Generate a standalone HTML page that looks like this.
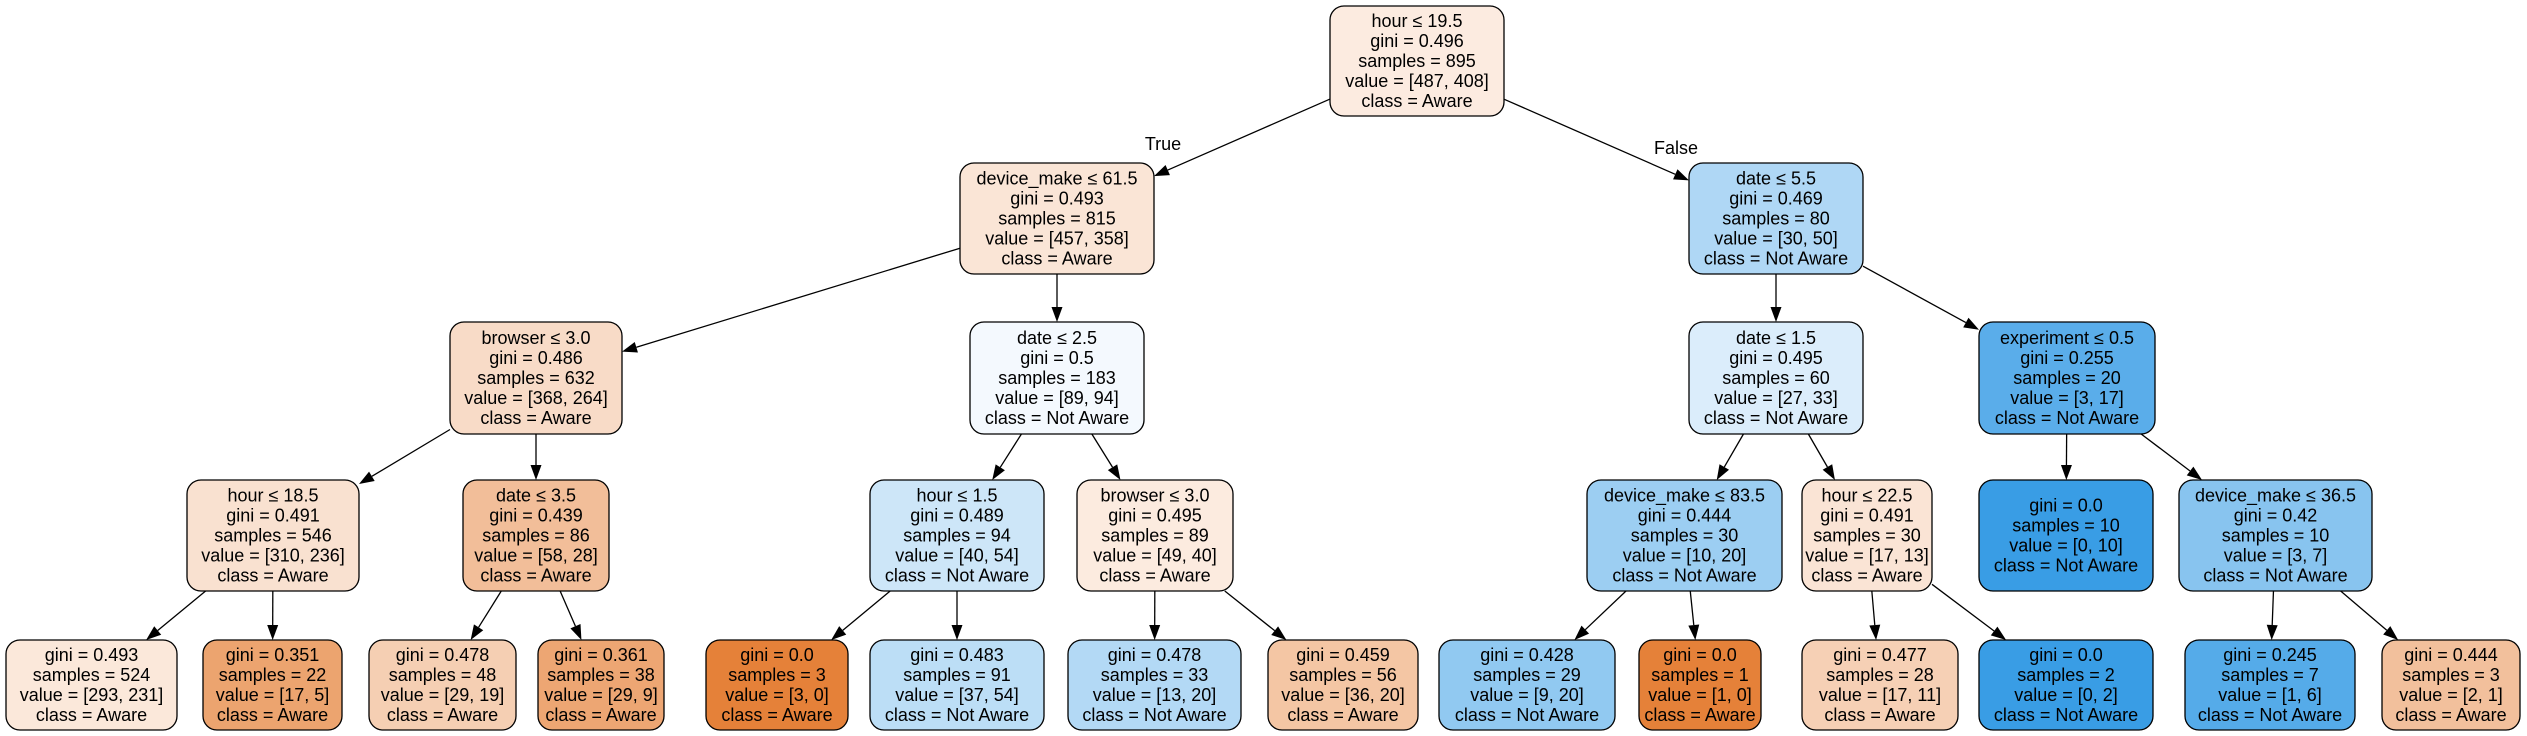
<!DOCTYPE html>
<html><head><meta charset="utf-8"><style>
html,body{margin:0;padding:0;background:#fff;width:2527px;height:736px;overflow:hidden}
svg{display:block}
text{font-family:"Liberation Sans",Arial,sans-serif;font-size:18px;fill:#000}
</style></head><body>
<svg id="s" width="2527" height="736" xmlns="http://www.w3.org/2000/svg"></svg>
<script>
var L=[[6,116],[163,274],[322,434],[480,591],[640,730]];
var N={
r:[0,1330,1504,'#fcebe0',['hour ≤ 19.5','gini = 0.496','samples = 895','value = [487, 408]','class = Aware']],
a:[1,960,1154,'#fae5d6',['device_make ≤ 61.5','gini = 0.493','samples = 815','value = [457, 358]','class = Aware']],
b:[1,1689,1863,'#afd7f5',['date ≤ 5.5','gini = 0.469','samples = 80','value = [30, 50]','class = Not Aware']],
c:[2,450,622,'#f8dbc7',['browser ≤ 3.0','gini = 0.486','samples = 632','value = [368, 264]','class = Aware']],
d:[2,970,1144,'#f4f9fe',['date ≤ 2.5','gini = 0.5','samples = 183','value = [89, 94]','class = Not Aware']],
e:[2,1689,1863,'#dbedfb',['date ≤ 1.5','gini = 0.495','samples = 60','value = [27, 33]','class = Not Aware']],
f:[2,1979,2155,'#5aadea',['experiment ≤ 0.5','gini = 0.255','samples = 20','value = [3, 17]','class = Not Aware']],
g:[3,187,359,'#f9e1d0',['hour ≤ 18.5','gini = 0.491','samples = 546','value = [310, 236]','class = Aware']],
h:[3,463,609,'#f2be99',['date ≤ 3.5','gini = 0.439','samples = 86','value = [58, 28]','class = Aware']],
i:[3,870,1044,'#cde6f8',['hour ≤ 1.5','gini = 0.489','samples = 94','value = [40, 54]','class = Not Aware']],
j:[3,1077,1233,'#fcebdf',['browser ≤ 3.0','gini = 0.495','samples = 89','value = [49, 40]','class = Aware']],
k:[3,1587,1782,'#9ccef2',['device_make ≤ 83.5','gini = 0.444','samples = 30','value = [10, 20]','class = Not Aware']],
l:[3,1802,1932,'#fae4d5',['hour ≤ 22.5','gini = 0.491','samples = 30','value = [17, 13]','class = Aware']],
m:[3,1979,2153,'#399de5',['gini = 0.0','samples = 10','value = [0, 10]','class = Not Aware']],
n:[3,2179,2372,'#88c4ef',['device_make ≤ 36.5','gini = 0.42','samples = 10','value = [3, 7]','class = Not Aware']],
o1:[4,6,177,'#fbe8da',['gini = 0.493','samples = 524','value = [293, 231]','class = Aware']],
o2:[4,203,342,'#eca46f',['gini = 0.351','samples = 22','value = [17, 5]','class = Aware']],
o3:[4,369,516,'#f5cfb3',['gini = 0.478','samples = 48','value = [29, 19]','class = Aware']],
o4:[4,538,664,'#eda673',['gini = 0.361','samples = 38','value = [29, 9]','class = Aware']],
o5:[4,706,848,'#e58139',['gini = 0.0','samples = 3','value = [3, 0]','class = Aware']],
o6:[4,870,1044,'#bcdef6',['gini = 0.483','samples = 91','value = [37, 54]','class = Not Aware']],
o7:[4,1068,1241,'#b3d9f5',['gini = 0.478','samples = 33','value = [13, 20]','class = Not Aware']],
o8:[4,1268,1418,'#f4c6a4',['gini = 0.459','samples = 56','value = [36, 20]','class = Aware']],
o9:[4,1439,1615,'#91c9f1',['gini = 0.428','samples = 29','value = [9, 20]','class = Not Aware']],
o10:[4,1639,1761,'#e58139',['gini = 0.0','samples = 1','value = [1, 0]','class = Aware']],
o11:[4,1802,1958,'#f6d0b5',['gini = 0.477','samples = 28','value = [17, 11]','class = Aware']],
o12:[4,1979,2153,'#399de5',['gini = 0.0','samples = 2','value = [0, 2]','class = Not Aware']],
o13:[4,2185,2355,'#55abe9',['gini = 0.245','samples = 7','value = [1, 6]','class = Not Aware']],
o14:[4,2382,2520,'#f2c09c',['gini = 0.444','samples = 3','value = [2, 1]','class = Aware']]
};
var E=[['r','a'],['r','b'],['a','c'],['a','d'],['b','e'],['b','f'],['c','g'],['c','h'],['d','i'],['d','j'],['e','k'],['e','l'],['f','m'],['f','n'],
['g','o1'],['g','o2'],['h','o3'],['h','o4'],['i','o5'],['i','o6'],['j','o7'],['j','o8'],['k','o9'],['k','o10'],['l','o11'],['l','o12'],['n','o13'],['n','o14']];
function box(id){var n=N[id];var y0=L[n[0]][0],y1=L[n[0]][1];return {x0:n[1],x1:n[2],y0:y0,y1:y1,cx:(n[1]+n[2])/2,cy:(y0+y1)/2};}
function clip(b,dx,dy){var hw=(b.x1-b.x0)/2,hh=(b.y1-b.y0)/2;var t=Math.min(dx?hw/Math.abs(dx):1e9,dy?hh/Math.abs(dy):1e9);return [b.cx+dx*t,b.cy+dy*t];}
var h='';
E.forEach(function(e){var p=box(e[0]),c=box(e[1]);var dx=c.cx-p.cx,dy=c.cy-p.cy;
var s=clip(p,dx,dy),t=clip(c,-dx,-dy);var len=Math.hypot(t[0]-s[0],t[1]-s[1]);var ux=(t[0]-s[0])/len,uy=(t[1]-s[1])/len;
var ax=t[0]-ux*15,ay=t[1]-uy*15,px=-uy*5.5,py=ux*5.5;
h+='<line x1="'+s[0]+'" y1="'+s[1]+'" x2="'+ax+'" y2="'+ay+'" stroke="#000" stroke-width="1.3"/>';
h+='<polygon points="'+t[0]+','+t[1]+' '+(ax+px)+','+(ay+py)+' '+(ax-px)+','+(ay-py)+'" fill="#000"/>';});
for(var id in N){var n=N[id],b=box(id);
h+='<rect x="'+b.x0+'" y="'+b.y0+'" width="'+(b.x1-b.x0)+'" height="'+(b.y1-b.y0)+'" rx="14" ry="14" fill="'+n[3]+'" stroke="#000" stroke-width="1.3"/>';
var ls=n[4],pitch=20,y=b.cy-(ls.length-1)*pitch/2+6;
ls.forEach(function(t,k){h+='<text x="'+b.cx+'" y="'+(y+k*pitch)+'" text-anchor="middle">'+t+'</text>';});}
h+='<text x="1163" y="150" text-anchor="middle">True</text><text x="1676" y="154" text-anchor="middle">False</text>';
document.getElementById('s').innerHTML=h;
</script>
</body></html>
